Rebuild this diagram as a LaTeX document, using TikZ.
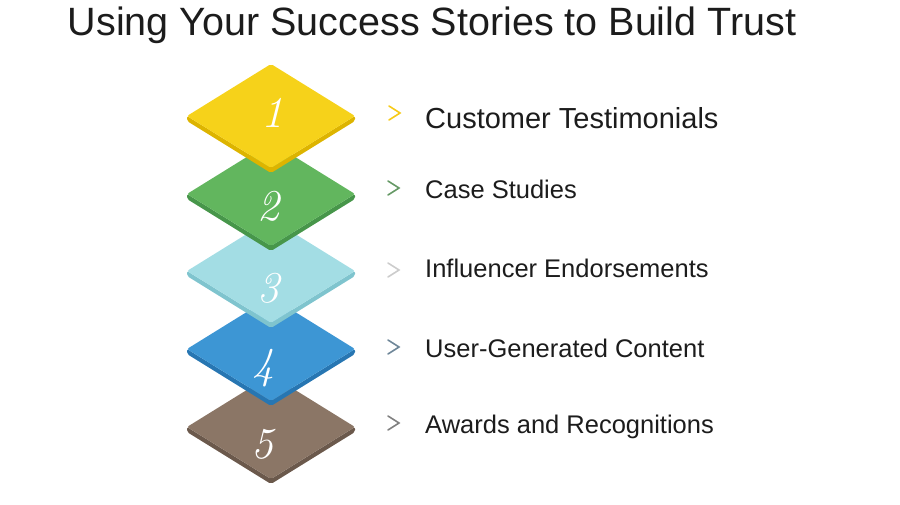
\documentclass[tikz,border=0pt]{standalone}
\usepackage{fontspec}
\newfontfamily\arialfont{Liberation Sans}
\definecolor{slabyellow}{HTML}{F6D21A}
\definecolor{rimyellow}{HTML}{DDB400}
\definecolor{slabgreen}{HTML}{62B65E}
\definecolor{rimgreen}{HTML}{47964A}
\definecolor{slabcyan}{HTML}{A3DDE4}
\definecolor{rimcyan}{HTML}{7FC4CE}
\definecolor{slabblue}{HTML}{3D96D4}
\definecolor{rimblue}{HTML}{2776B2}
\definecolor{slabbrown}{HTML}{8B7666}
\definecolor{rimbrown}{HTML}{6B594C}
\definecolor{textgray}{HTML}{1C1C1C}
\definecolor{chevsteel}{HTML}{6F8799}
% one slab: centre x, centre y, top colour, rim colour
\def\slab#1#2#3#4{%
  \fill[#4, rounded corners=2pt] (#1-84,#2) -- (#1,#2+52) -- (#1+84,#2) -- (#1+84,#2+5) -- (#1,#2+57) -- (#1-84,#2+5) -- cycle;
  \fill[#3, rounded corners=2pt] (#1-84,#2) -- (#1,#2-52) -- (#1+84,#2) -- (#1,#2+52) -- cycle;}

\begin{document}
\begin{tikzpicture}[x=1pt, y=-1pt,
    num/.style={text=white, font=\fontsize{44}{44}\selectfont\itshape},
    item/.style={anchor=base west, text=textgray, font=\arialfont\fontsize{25.5}{26}\selectfont, inner sep=0pt},
    chev/.style={line width=1.6pt, line cap=round, line join=miter}]
\useasboundingbox (0,0) rectangle (900,504);
%\draw [help lines, step=50] (0,0) grid (900,504);
\node [anchor=base, text=textgray, font=\arialfont\fontsize{39.5}{40}\selectfont, inner sep=0pt] (title) at (432,35) {Using Your Success Stories to Build Trust};
% stack, bottom first
\slab{271}{427}{slabbrown}{rimbrown}
\slab{271}{349}{slabblue}{rimblue}
\slab{271}{271}{slabcyan}{rimcyan}
\slab{271}{194}{slabgreen}{rimgreen}
\slab{271}{116}{slabyellow}{rimyellow}
\node [num] (n1) at (272,113) {1};
\node [num] (n2) at (268,206) {2};
\node [num] (n3) at (268,288) {3};
\node [num] (n4) at (263,368) {4};
\node [num] (n5) at (262,444) {5};
% list
\node [item, font=\arialfont\fontsize{29}{29}\selectfont] (t1) at (425,128) {Customer Testimonials};
\node [item] (t2) at (425,198) {Case Studies};
\node [item] (t3) at (425,277) {Influencer Endorsements};
\node [item] (t4) at (425,357) {User-Generated Content};
\node [item] (t5) at (425,433) {Awards and Recognitions};
\draw [chev, color=slabyellow!90!orange] (389,106)--(400,113)--(389,120);
\draw [chev, color=gray!80!green] (388,181)--(399,188)--(388,195);
\draw [chev, color=gray!40] (388,263)--(399,270)--(388,277);
\draw [chev, color=chevsteel] (388,340)--(399,347)--(388,354);
\draw [chev, color=gray] (388,416)--(399,423)--(388,430);
\end{tikzpicture}
\end{document}
